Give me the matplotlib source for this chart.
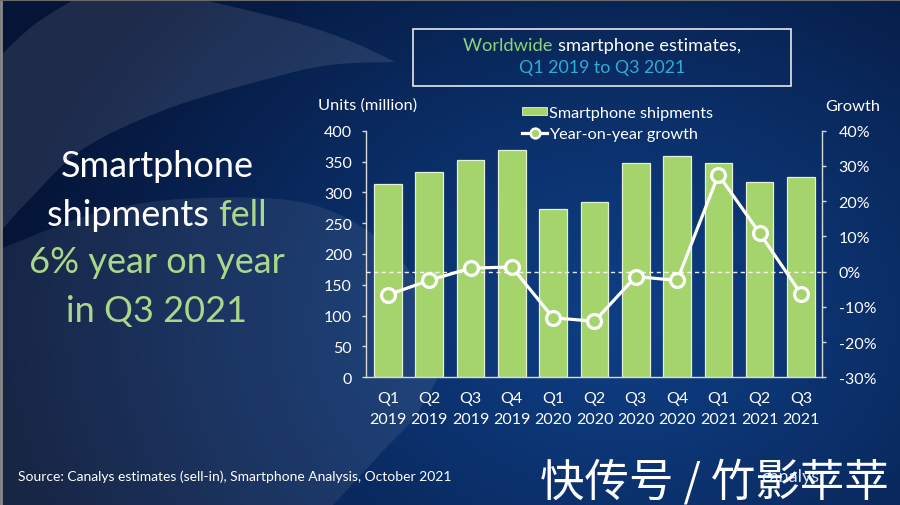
import numpy as np
import matplotlib
matplotlib.use("Agg")
import matplotlib.pyplot as plt
from matplotlib.patches import Polygon, Rectangle
from matplotlib.lines import Line2D
from matplotlib.patches import Patch

plt.rcParams['font.family'] = ['Lato', 'DejaVu Sans']

# ---------------- data ----------------
quarters = ["Q1\n2019", "Q2\n2019", "Q3\n2019", "Q4\n2019", "Q1\n2020", "Q2\n2020",
            "Q3\n2020", "Q4\n2020", "Q1\n2021", "Q2\n2021", "Q3\n2021"]
shipments = [313.9, 333.2, 352.4, 368.8, 272.5, 285.1, 348.2, 359.6, 347.8, 316.1, 325.4]
growth = [-6.6, -2.5, 1.0, 1.3, -13.1, -14.1, -1.4, -2.5, 27.5, 10.9, -6.3]
left_ticks = [0, 50, 100, 150, 200, 250, 300, 350, 400]
right_ticks = [-30, -20, -10, 0, 10, 20, 30, 40]

W, H = 900, 506
GREEN = '#a5d46c'
TEXT_GREEN = '#a9d88a'
WHITE = '#ffffff'
SPINE = '#d9d9d9'

fig = plt.figure(figsize=(W / 100, H / 100), dpi=100)

# ---------------- background ----------------
bg = fig.add_axes([0, 0, 1, 1])
bg.set_xlim(0, W)
bg.set_ylim(H, 0)
bg.axis('off')
yy, xx = np.mgrid[0:H, 0:W]
d = np.sqrt(((xx - 620) / 1.0) ** 2 + ((yy - 320) / 0.8) ** 2)
t = np.clip(d / 620.0, 0, 1) ** 1.2
c_in = np.array([14, 62, 132]) / 255.0
c_out = np.array([5, 20, 55]) / 255.0
img = c_in[None, None, :] * (1 - t[..., None]) + c_out[None, None, :] * t[..., None]
bg.imshow(img, extent=(0, W, H, 0), aspect='auto', zorder=0)


def catmull(pts, n=20, closed=False):
    pts = np.asarray(pts, float)
    if closed:
        P = np.vstack([pts[-1], pts, pts[0], pts[1]])
    else:
        P = np.vstack([pts[0], pts, pts[-1]])
    out = []
    for i in range(1, len(P) - 2):
        p0, p1, p2, p3 = P[i - 1], P[i], P[i + 1], P[i + 2]
        for s in np.linspace(0, 1, n, endpoint=False):
            s2, s3 = s * s, s * s * s
            out.append(0.5 * ((2 * p1) + (-p0 + p2) * s + (2 * p0 - 5 * p1 + 4 * p2 - p3) * s2
                              + (-p0 + 3 * p1 - 3 * p2 + p3) * s3))
    out.append(P[-2])
    return np.array(out)


# upper swoosh
upper = catmull([(0, 57), (35, 25), (75, 0)])
top_right = catmull([(200, 0), (290, 22), (350, 42), (395, 63)])
lower = catmull([(395, 63), (330, 66), (267, 80), (167, 110), (83, 150), (30, 200), (0, 233)])
sw = np.vstack([upper, top_right, lower])
bg.add_patch(Polygon(sw, closed=True, facecolor='white', alpha=0.10, lw=0, zorder=1))

# lower lighter region
low = catmull([(0, 250), (100, 213), (200, 199), (317, 207), (400, 260), (443, 347),
               (420, 410), (383, 452), (333, 506)])
low = np.vstack([low, [(0, 506)]])
bg.add_patch(Polygon(low, closed=True, facecolor='white', alpha=0.08, lw=0, zorder=1))

# thin gray frame on left/top
bg.plot([1, 1], [0, H], color='#8a8a8a', lw=2, zorder=2)
bg.plot([0, W], [1, 1], color='#6a6a6a', lw=1.5, zorder=2)


def mixed_line(x_center, y_base, parts, size):
    r = fig.canvas.get_renderer()
    objs = []
    widths = []
    for txt, col in parts:
        o = bg.text(0, y_base, txt, color=col, fontsize=size, ha='left', va='baseline', zorder=5)
        objs.append(o)
        widths.append(o.get_window_extent(renderer=r).width)
    total = sum(widths)
    x = x_center - total / 2
    for o, w in zip(objs, widths):
        o.set_x(x)
        x += w
    return objs


# left headline
BIG = 26
mixed_line(157, 177, [("Smartphone", WHITE)], BIG)
mixed_line(157, 226, [("shipments ", WHITE), ("fell", TEXT_GREEN)], BIG)
mixed_line(157, 273, [("6% year on year", TEXT_GREEN)], BIG)
mixed_line(157, 322, [("in Q3 2021", TEXT_GREEN)], BIG)

# title box
bg.add_patch(Rectangle((413, 30), 378, 57, fill=False, edgecolor='#e8e8e8', lw=1.2, zorder=4))
mixed_line(602, 51, [("Worldwide ", '#8fd07a'), ("smartphone estimates,", WHITE)], 13.2)
mixed_line(602, 73, [("Q1 2019 to Q3 2021", '#2eaed6')], 12.8)

# axis titles
bg.text(318, 110, "Units (million)", color=WHITE, fontsize=11.8, ha='left', va='baseline', zorder=5)
bg.text(880, 111, "Growth", color=WHITE, fontsize=11.8, ha='right', va='baseline', zorder=5)

# source
bg.text(18, 481, "Source: Canalys estimates (sell-in), Smartphone Analysis, October 2021",
        color=WHITE, fontsize=10, ha='left', va='baseline', zorder=5)

# logo + watermark
bg.text(790, 482, "canalys", color='#dfe6ef', fontsize=13, ha='center', va='baseline', zorder=5)
bg.text(540, 496, "快传号 / 竹影苹苹", color=WHITE, fontsize=32, ha='left', va='baseline',
        family=['Noto Sans CJK SC', 'DejaVu Sans'], zorder=6)

# ---------------- chart ----------------
L, R, T, B = 366, 821.7, 131.7, 378.3
ax = fig.add_axes([L / W, 1 - B / H, (R - L) / W, (B - T) / H])
ax.patch.set_alpha(0)
x = np.arange(len(quarters))
ax.bar(x, shipments, width=0.665, color=GREEN, edgecolor='#e4f1d6', linewidth=0.9, zorder=2)
ax.set_xlim(-0.53, len(quarters) - 1 + 0.50)
ax.set_ylim(0, 400)
ax.set_yticks(left_ticks)
ax.set_xticks(x)
ax.set_xticklabels(quarters, linespacing=1.6)
for s in ['top', 'right']:
    ax.spines[s].set_visible(False)
for s in ['left', 'bottom']:
    ax.spines[s].set_color(SPINE)
    ax.spines[s].set_linewidth(1.0)
ax.tick_params(axis='y', colors=SPINE, labelcolor=WHITE, labelsize=11.5, length=3.2, width=1, pad=7)
ax.tick_params(axis='x', length=0, labelcolor=WHITE, labelsize=11.5, pad=10)

ax2 = ax.twinx()
ax2.set_ylim(-30, 40)
ax2.set_yticks(right_ticks)
ax2.set_yticklabels([f"{v}%" for v in right_ticks])
for s in ['top', 'left', 'bottom']:
    ax2.spines[s].set_visible(False)
ax2.spines['right'].set_color(SPINE)
ax2.spines['right'].set_linewidth(1.0)
ax2.tick_params(axis='y', colors=SPINE, labelcolor=WHITE, labelsize=11.5, length=3.2, width=1, pad=9)
ax2.axhline(0, color='white', lw=1.0, ls=(0, (3, 2.5)), alpha=0.9, zorder=2)
ax2.plot(x, growth, color='white', lw=2.3, marker='o', markersize=10,
         markerfacecolor=GREEN, markeredgecolor='white', markeredgewidth=2.3, zorder=3)

# legend
handles = [Patch(facecolor=GREEN, edgecolor='#e4f1d6', lw=0.6),
           Line2D([0], [0], color='white', lw=2.3, marker='o', markersize=7,
                  markerfacecolor=GREEN, markeredgecolor='white', markeredgewidth=1.8)]
leg = fig.legend(handles, ["Smartphone shipments", "Year-on-year growth"],
                 loc='upper left', bbox_to_anchor=(522 / W, 1 - 107 / H),
                 frameon=False, fontsize=11.7, labelcolor='white', handlelength=1.55,
                 handleheight=0.4, handletextpad=0.12, labelspacing=0.45, borderpad=0,
                 borderaxespad=0)

fig.savefig("out.png", dpi=100)
